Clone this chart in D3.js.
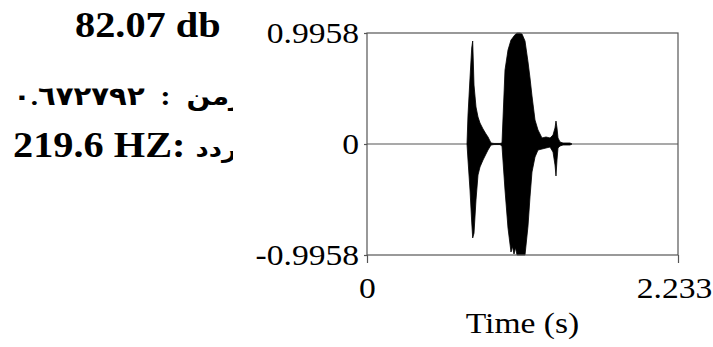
<!DOCTYPE html>
<html>
<head>
<meta charset="utf-8">
<script src="https://cdn.jsdelivr.net/npm/d3@7"></script>
<style>
  html, body { margin: 0; padding: 0; background: #fff; }
  svg { display: block; }
</style>
</head>
<body>
<div id="chart"></div>
<script>
const timeS = [0.7180, 0.7252, 0.7396, 0.7518, 0.7589, 0.7683, 0.7826, 0.7970, 0.8114, 0.8329,
  0.8544, 0.8688, 0.8903, 0.9119, 0.9334, 0.9550, 0.9693, 0.9909, 1.0124, 1.0339,
  1.0447, 1.0555, 1.0662, 1.0770, 1.0806, 1.0986, 1.1129, 1.1345, 1.1560, 1.1704,
  1.1847, 1.2063, 1.2278, 1.2565, 1.2852, 1.3140, 1.3355, 1.3499, 1.3570, 1.3642,
  1.3714, 1.3858, 1.4073, 1.4288, 1.4576, 1.4719];
const ampMax = [0, 0.260, 0.592, 0.861, 0.924, 0.529, 0.332, 0.242, 0.188, 0.135,
  0.090, 0.063, 0.009, 0.005, 0.005, 0.005, 0.009, 0.664, 0.843, 0.933,
  0.950, 0.969, 0.985, 0.9958, 0.9958, 0.9958, 0.987, 0.924, 0.736, 0.592,
  0.431, 0.215, 0.126, 0.054, 0.063, 0.054, 0.081, 0.144, 0.206, 0.144,
  0.054, 0.018, 0.009, 0.009, 0.009, 0];
const ampMin = [0, -0.144, -0.413, -0.700, -0.843, -0.800, -0.502, -0.278, -0.206, -0.144,
  -0.090, -0.054, -0.009, -0.005, -0.005, -0.005, -0.018, -0.413, -0.754, -0.969,
  -0.920, -0.987, -0.930, -0.9958, -0.9958, -0.9958, -0.9958, -0.9958, -0.736, -0.475,
  -0.251, -0.117, -0.054, -0.045, -0.036, -0.027, -0.072, -0.188, -0.287, -0.144,
  -0.036, -0.018, -0.009, -0.009, -0.009, 0];
const timeDomain = [0, 2.233];
const ampDomain = [-0.9958, 0.9958];
const yTickValues = [-0.9958, 0, 0.9958];
const yTickLabels = ["-0.9958", "0", "0.9958"];
const xTickValues = [0, 2.233];
const xTickLabels = ["0", "2.233"];
const xAxisTitle = "Time (s)";
const infoIntensity = "82.07 db";
const infoTimeLabel = "الزمن";
const infoTimeSep = "  :  ";
const infoTimeValue = "٠.٦٧٢٧٩٢";
const infoFreqValue = "219.6 HZ: ";
const infoFreqLabel = "التردد";

// ---- layout ----
const W = 713, H = 347;
const plot = { left: 367, right: 678, top: 33, bottom: 255 };
const stretch = 1.12;
const serif = "'Liberation Serif', 'Times New Roman', 'DejaVu Sans', serif";

const svg = d3.select("#chart").append("svg")
  .attr("width", W).attr("height", H);
svg.append("rect").attr("width", W).attr("height", H).attr("fill", "#fff");

const x = d3.scaleLinear().domain(timeDomain).range([plot.left, plot.right]);
const y = d3.scaleLinear().domain(ampDomain).range([plot.bottom, plot.top]);

// zero line
svg.append("line")
  .attr("x1", x(timeDomain[0])).attr("x2", x(timeDomain[1]))
  .attr("y1", y(0)).attr("y2", y(0))
  .attr("stroke", "#555").attr("stroke-width", 1.2);

// waveform envelope
const env = timeS.map((t, i) => ({ t, hi: ampMax[i], lo: ampMin[i] }));
svg.append("path")
  .datum(env)
  .attr("d", d3.area().x(d => x(d.t)).y0(d => y(d.lo)).y1(d => y(d.hi)))
  .attr("fill", "#000").attr("stroke", "#000").attr("stroke-width", 0.8);

// frame
svg.append("rect")
  .attr("x", plot.left).attr("y", plot.top)
  .attr("width", plot.right - plot.left).attr("height", plot.bottom - plot.top)
  .attr("fill", "none").attr("stroke", "#555").attr("stroke-width", 1.2);

// y axis
const yAxis = svg.append("g")
  .attr("transform", `translate(${plot.left},0)`)
  .call(d3.axisLeft(y).tickValues(yTickValues).tickSize(3).tickPadding(4)
    .tickFormat((d, i) => yTickLabels[i]));
yAxis.select(".domain").remove();
yAxis.selectAll(".tick line").attr("stroke", "#555").attr("stroke-width", 1.2);
yAxis.selectAll(".tick text")
  .attr("font-family", serif).attr("font-size", 30).attr("fill", "#000")
  .attr("transform", `scale(${stretch},1)`);

// x axis
const xAxis = svg.append("g")
  .attr("transform", `translate(0,${plot.bottom})`)
  .call(d3.axisBottom(x).tickValues(xTickValues).tickSize(8).tickPadding(14)
    .tickFormat((d, i) => xTickLabels[i]));
xAxis.select(".domain").remove();
xAxis.selectAll(".tick line").attr("stroke", "#555").attr("stroke-width", 1.2);
xAxis.selectAll(".tick text")
  .attr("font-family", serif).attr("font-size", 30).attr("fill", "#000")
  .attr("x", (d, i) => i === xTickValues.length - 1 ? -3.5 : 0)
  .attr("transform", `scale(${stretch},1)`);

// x title
svg.append("text")
  .attr("transform", `translate(${(plot.left + plot.right) / 2},333) scale(${stretch},1)`)
  .attr("text-anchor", "middle")
  .attr("font-family", serif).attr("font-size", 30).attr("fill", "#000")
  .text(xAxisTitle);

// left info text (clipped at right like the reference)
svg.append("clipPath").attr("id", "infoClip")
  .append("rect").attr("x", 0).attr("y", 0).attr("width", 233).attr("height", H);
const info = svg.append("g").attr("clip-path", "url(#infoClip)")
  .attr("font-family", serif).attr("font-weight", "bold").attr("fill", "#000");

info.append("text")
  .attr("transform", `translate(75,37) scale(${stretch},1)`)
  .attr("font-size", 36)
  .text(infoIntensity);

const t2 = info.append("text")
  .attr("transform", `translate(13,105) scale(${stretch},1)`)
  .style("white-space", "pre")
  .attr("font-size", 28);
t2.append("tspan").attr("font-size", 25).text(infoTimeLabel);
t2.append("tspan").text(infoTimeSep);
t2.append("tspan").attr("font-size", 26).attr("letter-spacing", 1.5).text(infoTimeValue);

const t3 = info.append("text")
  .attr("transform", `translate(13,157) scale(${stretch},1)`)
  .style("white-space", "pre")
  .attr("font-size", 36);
t3.append("tspan").text(infoFreqValue);
t3.append("tspan").attr("font-size", 23).text(infoFreqLabel);
</script>
</body>
</html>
